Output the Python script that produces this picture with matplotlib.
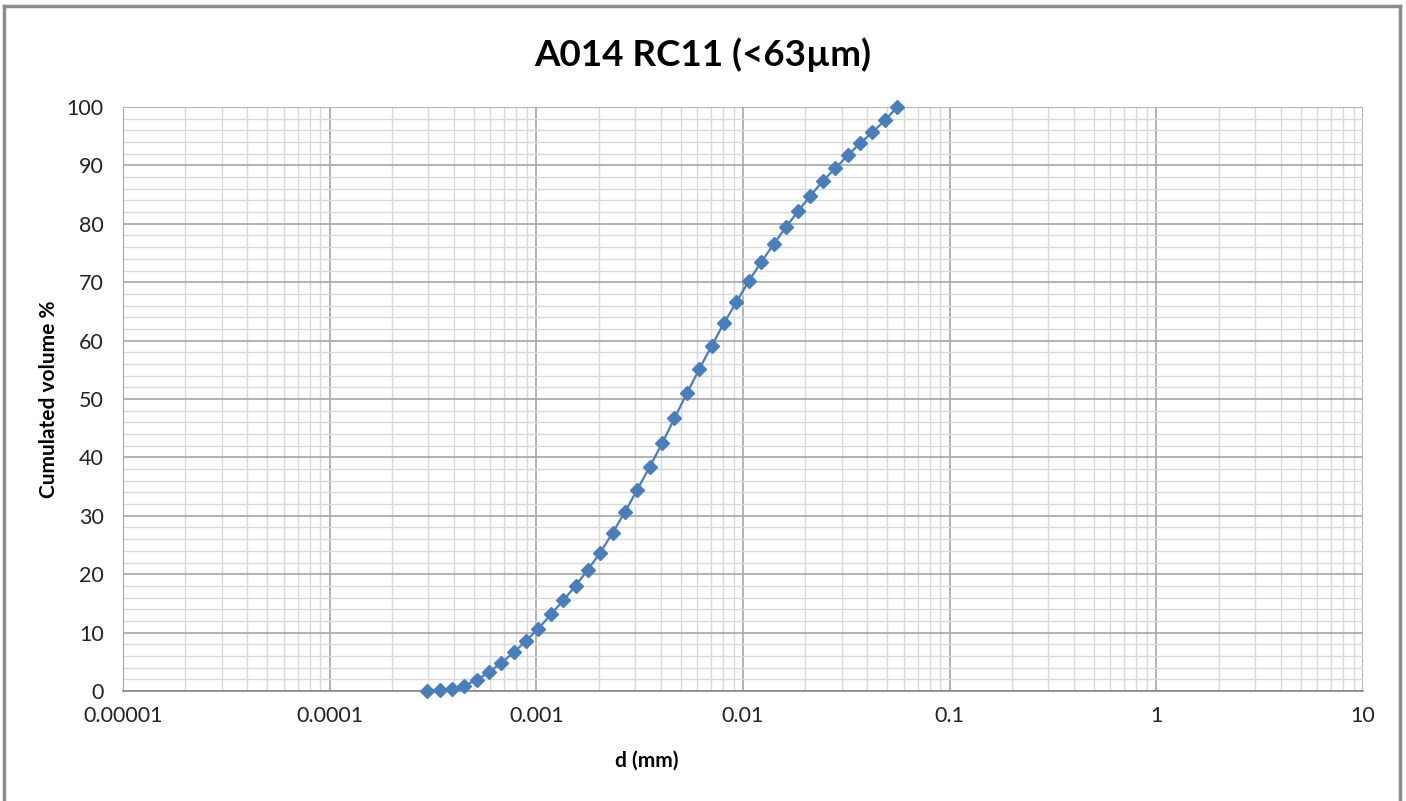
import matplotlib
matplotlib.use('Agg')
import matplotlib.pyplot as plt
from matplotlib.lines import Line2D
from matplotlib.ticker import LogLocator, MultipleLocator, FixedLocator

# Particle size (mm) and cumulated volume (%)
diameter_mm = [0.000296, 0.000340, 0.000390, 0.000448, 0.000514, 0.000590, 0.000677,
               0.000777, 0.000892, 0.001024, 0.001175, 0.001349, 0.001548, 0.001777,
               0.00204, 0.00234, 0.00269, 0.00308, 0.00354, 0.00406, 0.00466, 0.00535,
               0.00614, 0.00705, 0.00809, 0.00929, 0.01066, 0.01224, 0.01405, 0.01612,
               0.0185, 0.0212, 0.0244, 0.0280, 0.0321, 0.0369, 0.0423, 0.0486, 0.0558]
cum_volume = [0.0, 0.2, 0.3, 0.9, 1.9, 3.2, 4.8, 6.6, 8.6, 10.7, 13.1, 15.5, 18.0, 20.8,
              23.7, 27.1, 30.7, 34.5, 38.4, 42.4, 46.7, 51.0, 55.1, 59.1, 63.0, 66.6,
              70.2, 73.4, 76.5, 79.4, 82.2, 84.8, 87.4, 89.5, 91.7, 93.8, 95.7, 97.7, 100.0]

x_ticks = [1e-5, 1e-4, 1e-3, 1e-2, 1e-1, 1, 10]
x_tick_labels = ['0.00001', '0.0001', '0.001', '0.01', '0.1', '1', '10']

plt.rcParams['font.family'] = ['Lato', 'DejaVu Sans']

fig = plt.figure(figsize=(14.06, 8.01), dpi=100)
ax = fig.add_axes([123 / 1406, 110 / 801, 1240 / 1406, 584 / 801])

ax.plot(diameter_mm, cum_volume, color='#4A7EBB', lw=1.6, marker='D', ms=7.5,
        markerfacecolor='#4A7EBB', markeredgecolor='#4A7EBB', zorder=3, clip_on=False)

ax.set_xscale('log')
ax.set_xlim(1e-5, 10)
ax.set_ylim(0, 100)
ax.xaxis.set_major_locator(FixedLocator(x_ticks))
ax.set_xticklabels(x_tick_labels)
ax.xaxis.set_minor_locator(LogLocator(base=10, subs=range(2, 10), numticks=20))
ax.xaxis.set_minor_formatter(plt.NullFormatter())
ax.yaxis.set_major_locator(MultipleLocator(10))
ax.yaxis.set_minor_locator(MultipleLocator(2))

ax.grid(which='major', color='#a6a6a6', lw=1.2)
ax.grid(which='minor', color='#d9d9d9', lw=1.0)
ax.set_axisbelow(True)

ax.tick_params(which='both', length=0)
ax.tick_params(axis='x', labelsize=15.5, pad=11, colors='#222222')
ax.tick_params(axis='y', labelsize=15.5, pad=14, colors='#222222')
for side in ['top', 'right']:
    ax.spines[side].set_visible(False)
ax.spines['left'].set_color('#a6a6a6')
ax.spines['bottom'].set_color('#868686')
ax.spines['bottom'].set_linewidth(1.2)

ax.set_xlabel('d (mm)', fontsize=15, fontweight='bold')
ax.xaxis.set_label_coords(0.422, -0.103)
ax.set_ylabel('Cumulated volume %', fontsize=15, fontweight='bold', labelpad=5)
fig.text(0.5, 1 - 55 / 801, 'A014 RC11 (<63µm)', ha='center', va='center',
         fontsize=26.5, fontweight='bold')

# outer chart frame
frame = dict(color='#8c8c8c', lw=2.5, transform=fig.transFigure)
fig.add_artist(Line2D([4 / 1406, 4 / 1406], [0, 1 - 6 / 801], **frame))
fig.add_artist(Line2D([1400 / 1406, 1400 / 1406], [0, 1 - 6 / 801], **frame))
fig.add_artist(Line2D([4 / 1406, 1400 / 1406], [1 - 6 / 801, 1 - 6 / 801], **frame))

fig.savefig('out.png', dpi=100)
